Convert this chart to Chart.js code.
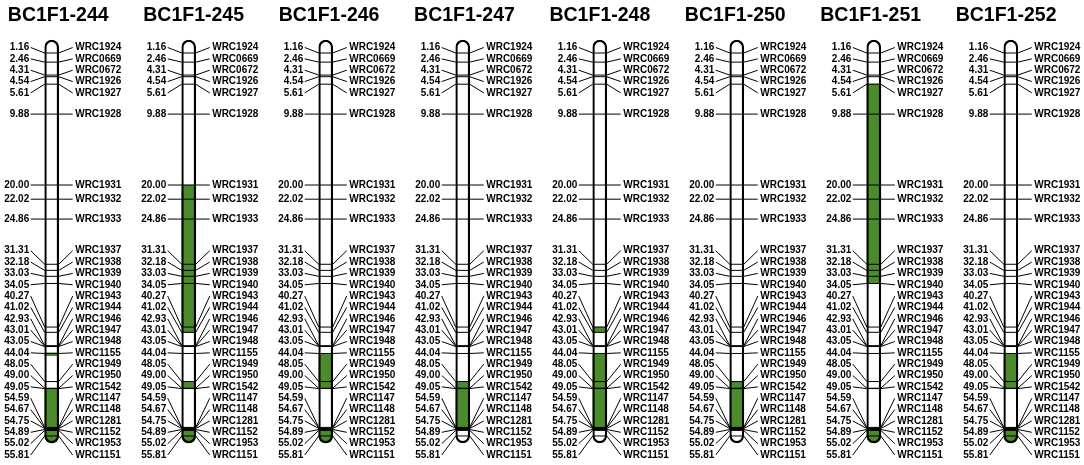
<!DOCTYPE html>
<html>
<head>
<meta charset="utf-8">
<script src="https://cdn.jsdelivr.net/npm/chart.js@4"></script>
<style>
  html, body { margin: 0; padding: 0; background: #fff; }
  #wrap { width: 1084px; height: 465px; position: relative; }
</style>
</head>
<body>
<div id="wrap"><canvas id="map"></canvas></div>
<script>
/* linkage map — donor segments on 8 BC1F1 plants */

const CHROMOSOMES = ['BC1F1-244','BC1F1-245','BC1F1-246','BC1F1-247','BC1F1-248','BC1F1-250','BC1F1-251','BC1F1-252'];

const MARKER_CM = [1.16, 2.46, 4.31, 4.54, 5.61, 9.88, 20.00, 22.02, 24.86,
  31.31, 32.18, 33.03, 34.05, 40.27, 41.02, 42.93, 43.01, 43.05, 44.04,
  48.05, 49.00, 49.05, 54.59, 54.67, 54.75, 54.89, 55.02, 55.81];

const MARKER_NAMES = ['WRC1924','WRC0669','WRC0672','WRC1926','WRC1927','WRC1928','WRC1931','WRC1932','WRC1933',
  'WRC1937','WRC1938','WRC1939','WRC1940','WRC1943','WRC1944','WRC1946','WRC1947','WRC1948','WRC1155',
  'WRC1949','WRC1950','WRC1542','WRC1147','WRC1148','WRC1281','WRC1152','WRC1953','WRC1151'];

// chromosome body runs a little past the end markers (telomere caps)
const CHROM_TOP = -0.7;
const CHROM_END = 56.8;

// green (introgressed) segments: which plant, from cM, to cM
const SEG_CHROM = [0, 0,      1, 1, 1,                2, 2,            3,     4, 4,          5,     6, 6,           7, 7];
const SEG_FROM  = [43.95, 49.05, 20.00, 48.05, 54.89, 44.04, 54.89,   48.05, 40.27, 44.04, 48.05, 5.61, 54.89,    44.04, 54.89];
const SEG_TO    = [44.35, CHROM_END, 41.02, 49.05, CHROM_END, 49.05, CHROM_END, 54.89, 41.02, 54.89, 54.89, 34.05, CHROM_END, 49.05, CHROM_END];

const GREEN = '#4c8b2b';
const LABEL_GAP = 11.35;

// split segments into layers so each dataset has at most one bar per plant
const segLayers = [];
SEG_CHROM.forEach((c, k) => {
  let layer = segLayers.find(l => l[c] == null);
  if (!layer) { layer = CHROMOSOMES.map(() => null); segLayers.push(layer); }
  layer[c] = [SEG_FROM[k], SEG_TO[k]];
});

const markerPoints = [];
CHROMOSOMES.forEach(c => MARKER_CM.forEach(v => markerPoints.push({ x: c, y: v })));

// push labels apart (min gap) while keeping each cluster centred on its markers
function spreadLabels(ys, gap, lo, hi) {
  const place = g => {
    let s = g.sum / g.n - (g.n - 1) * gap / 2;
    s = Math.max(lo, Math.min(s, hi - (g.n - 1) * gap));
    g.start = s;
  };
  const groups = ys.map(y => ({ n: 1, sum: y }));
  groups.forEach(place);
  let changed = true;
  while (changed) {
    changed = false;
    for (let k = 1; k < groups.length; k++) {
      const a = groups[k - 1], b = groups[k];
      if (a.start + a.n * gap > b.start + 0.01) {
        a.n += b.n; a.sum += b.sum; place(a);
        groups.splice(k, 1); changed = true; break;
      }
    }
  }
  const out = [];
  groups.forEach(g => { for (let j = 0; j < g.n; j++) out.push(g.start + j * gap); });
  return out;
}

const mapLabels = {
  id: 'mapLabels',
  afterDatasetsDraw(chart) {
    const { ctx } = chart;
    const xs = chart.scales.x, ys = chart.scales.y;
    const pix = MARKER_CM.map(v => ys.getPixelForValue(v));
    const lab = spreadLabels(pix, LABEL_GAP, 20, chart.height - 10);
    ctx.save();
    ctx.fillStyle = '#000';
    ctx.strokeStyle = '#000';
    ctx.lineWidth = 1;
    CHROMOSOMES.forEach((name, i) => {
      const cx = xs.getPixelForValue(i);
      // titles sit on a slightly tighter pitch than the chromosomes
      ctx.font = 'bold 19.5px "Liberation Sans", Arial, sans-serif';
      ctx.textAlign = 'center';
      ctx.textBaseline = 'alphabetic';
      ctx.fillText(name, cx + 6.5 - i * 1.6, 20.5);

      ctx.font = 'bold 10px "Liberation Sans", Arial, sans-serif';
      ctx.textBaseline = 'middle';
      MARKER_CM.forEach((v, m) => {
        ctx.beginPath();
        ctx.moveTo(cx - 21, lab[m]); ctx.lineTo(cx - 7, pix[m]);
        ctx.moveTo(cx + 7, pix[m]); ctx.lineTo(cx + 21, lab[m]);
        ctx.stroke();
        ctx.textAlign = 'right';
        ctx.fillText(v.toFixed(2), cx - 22.5, lab[m]);
        ctx.textAlign = 'left';
        ctx.fillText(MARKER_NAMES[m], cx + 23.5, lab[m]);
      });
    });
    ctx.restore();
  }
};

const endRadius = c => (c.raw && c.raw[1] >= CHROM_END)
  ? { topLeft: 0, topRight: 0, bottomLeft: 7, bottomRight: 7 } : 0;

const datasets = [
  { type: 'bar', data: CHROMOSOMES.map(() => [CHROM_TOP, CHROM_END]), backgroundColor: '#fff',
    borderWidth: 0, borderRadius: 7, borderSkipped: false, order: 5 },
  ...segLayers.map(layer => ({
    type: 'bar', data: layer, backgroundColor: GREEN, borderWidth: 0,
    borderRadius: endRadius, borderSkipped: false, order: 4,
  })),
  { type: 'line', data: markerPoints, showLine: false, pointStyle: 'line', pointRadius: 7,
    pointBorderWidth: 1, pointBorderColor: '#000', order: 3 },
  { type: 'bar', data: CHROMOSOMES.map(() => [CHROM_TOP, CHROM_END]), backgroundColor: 'rgba(0,0,0,0)',
    borderColor: '#000', borderWidth: 1.5, borderRadius: 7, borderSkipped: false, order: 1 },
];
datasets.forEach(d => { d.clip = false; if (d.type === 'bar') { d.barThickness = 14; d.grouped = false; } });

new Chart(document.getElementById('map'), {
  type: 'bar',
  data: { labels: CHROMOSOMES, datasets },
  options: {
    responsive: true,
    maintainAspectRatio: false,
    animation: false,
    layout: { padding: { left: 51.7, right: 73.2, top: 30.86, bottom: 13.7 } },
    plugins: { legend: { display: false }, tooltip: { enabled: false } },
    scales: {
      x: { type: 'category', offset: false, display: false },
      y: { type: 'linear', reverse: true, min: -2, max: 58, display: false },
    },
  },
  plugins: [mapLabels],
});
</script>
</body>
</html>
